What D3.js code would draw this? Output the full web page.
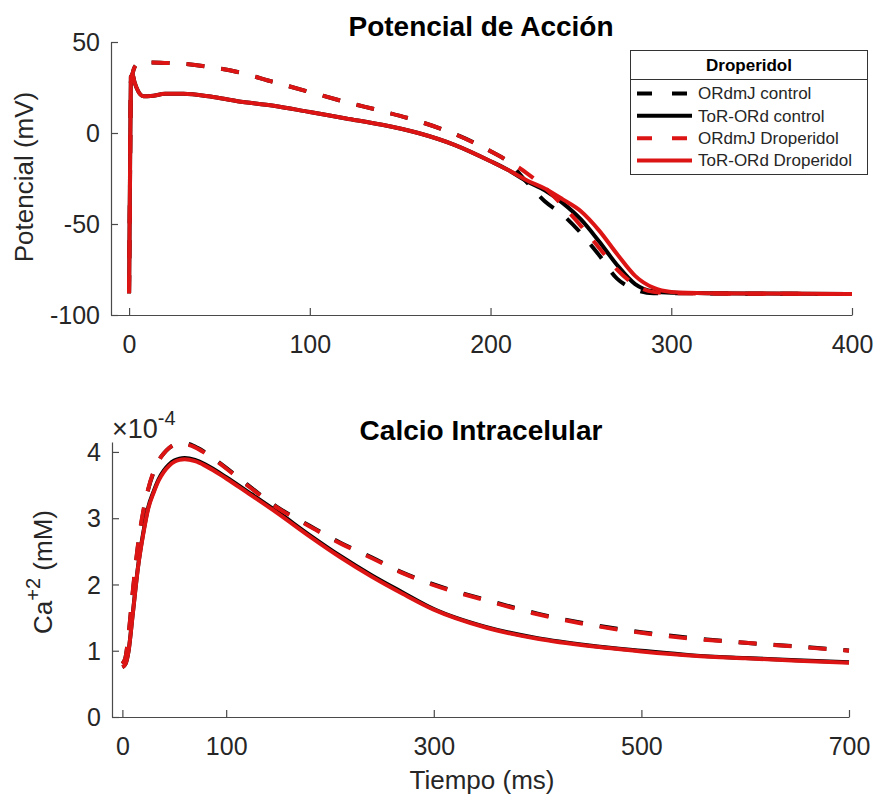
<!DOCTYPE html>
<html>
<head>
<meta charset="utf-8">
<script src="https://cdn.jsdelivr.net/npm/d3@7"></script>
<style>
  html, body { margin: 0; padding: 0; background: #fff; }
  svg { display: block; font-family: "Liberation Sans", Arial, Helvetica, sans-serif; }
</style>
</head>
<body>
<svg id="chart" width="880" height="802"></svg>
<script>
// ---- Action potential (mV) ----
const apTime = [0, 0.5, 1, 2, 3, 5, 8, 12, 20, 30, 45, 60, 80, 100, 120, 140, 160, 180, 200, 210, 220, 230, 240, 250, 260, 270, 280, 290, 300, 320, 350, 400];
const apOrdmjControl     = [-88, -30, 28, 33, 36, 38, 38.6, 38.7, 38.5, 38, 36.2, 33.5, 28, 22.5, 17, 12, 6.5, -0.5, -10, -16, -27, -37.5, -45, -55, -67, -80, -86, -88, -88, -88.2, -88.3, -88.5];
const apTorordControl    = [-88, -25, 31, 32, 28, 23, 20.2, 20.3, 21.5, 21.5, 20, 17.5, 15, 11.5, 8, 4.5, 0, -6.5, -15.5, -20.5, -26.5, -31.5, -38.5, -47.5, -59.5, -72.5, -83, -87, -87.8, -88, -88.2, -88.5];
const apOrdmjDroperidol  = [-88, -30, 28, 33, 36, 38, 38.6, 38.7, 38.5, 38, 36.2, 33.5, 28, 22.5, 17, 12, 6.5, -0.5, -10, -15.5, -22, -30, -40, -51, -63, -75, -83.5, -87.3, -88, -88.2, -88.3, -88.5];
const apTorordDroperidol = [-88, -25, 31, 32, 28, 23, 20.2, 20.3, 21.5, 21.5, 20, 17.5, 15, 11.5, 8, 4.5, 0, -6.5, -15.5, -20.5, -26, -30.5, -36.5, -43, -53.5, -66.5, -78.5, -85, -87.3, -88, -88.2, -88.5];

// ---- Intracellular calcium (x10^-4 mM) ----
const caTime = [0, 3, 6, 10, 15, 20, 25, 30, 35, 40, 45, 50, 55, 60, 70, 80, 100, 120, 150, 180, 210, 240, 270, 300, 350, 400, 450, 500, 550, 600, 650, 700];
const caOrdmjControl     = [0.8, 0.9, 1.24, 1.88, 2.58, 3.08, 3.44, 3.69, 3.87, 3.98, 4.06, 4.11, 4.13, 4.13, 4.08, 3.99, 3.76, 3.51, 3.16, 2.89, 2.63, 2.41, 2.18, 2.0, 1.77, 1.56, 1.4, 1.28, 1.19, 1.12, 1.065, 1.005];
const caTorordControl    = [0.75, 0.8, 1.0, 1.56, 2.26, 2.77, 3.17, 3.4, 3.59, 3.72, 3.81, 3.87, 3.9, 3.91, 3.88, 3.81, 3.62, 3.41, 3.09, 2.75, 2.43, 2.14, 1.88, 1.63, 1.36, 1.19, 1.08, 1.0, 0.93, 0.89, 0.855, 0.825];
const caOrdmjDroperidol  = [0.8, 0.9, 1.25, 1.9, 2.6, 3.1, 3.45, 3.7, 3.87, 3.98, 4.06, 4.11, 4.13, 4.12, 4.07, 3.98, 3.75, 3.5, 3.15, 2.88, 2.62, 2.4, 2.17, 1.99, 1.76, 1.55, 1.39, 1.27, 1.18, 1.12, 1.06, 1.0];
const caTorordDroperidol = [0.75, 0.8, 1.0, 1.55, 2.25, 2.75, 3.15, 3.38, 3.57, 3.7, 3.79, 3.85, 3.88, 3.89, 3.86, 3.79, 3.6, 3.39, 3.07, 2.73, 2.41, 2.12, 1.86, 1.62, 1.35, 1.18, 1.07, 0.99, 0.925, 0.885, 0.85, 0.82];

// ---- Axis ticks and labels ----
const apXTicks = [0, 100, 200, 300, 400];
const apYTicks = [-100, -50, 0, 50];
const caXTicks = [0, 100, 300, 500, 700];
const caYTicks = [0, 1, 2, 3, 4];
const seriesNames = ["ORdmJ control", "ToR-ORd control", "ORdmJ Droperidol", "ToR-ORd Droperidol"];
const legendTitle = "Droperidol";

// ---- Styling ----
const RED = "#dc1414";
const BLACK = "#000000";
const DASH = "18,17";
const LW = 4;
const seriesStyle = [
  { color: BLACK, dash: DASH },
  { color: BLACK, dash: null },
  { color: RED, dash: DASH },
  { color: RED, dash: null }
];
const AXIS_COLOR = "#4a4a4a";
const TEXT_COLOR = "#262626";
const TICK_FONT = 25;
const LABEL_FONT = 26;

const svg = d3.select("#chart");
// plain integer labels with an ASCII hyphen for negatives
const plainFormat = d => String(d);

function drawAxes(g, x, y, xTicks, yTicks) {
  const xAxis = d3.axisBottom(x).tickValues(xTicks).tickFormat(plainFormat)
    .tickSizeInner(-7).tickSizeOuter(0).tickPadding(20);
  const yAxis = d3.axisLeft(y).tickValues(yTicks).tickFormat(plainFormat)
    .tickSizeInner(-7).tickSizeOuter(0).tickPadding(11);
  const gx = g.append("g").attr("transform", `translate(0,${y.range()[0]})`).call(xAxis);
  const gy = g.append("g").attr("transform", `translate(${x.range()[0]},0)`).call(yAxis);
  [gx, gy].forEach(a => {
    a.select(".domain").attr("stroke", AXIS_COLOR).attr("stroke-width", 1.2);
    a.selectAll(".tick line").attr("stroke", AXIS_COLOR).attr("stroke-width", 1.2);
    a.selectAll(".tick text").attr("fill", TEXT_COLOR).style("font-size", TICK_FONT + "px")
      .style("font-family", '"Liberation Sans", Arial, sans-serif');
  });
  gy.selectAll(".tick text").attr("dy", "0.35em");
  gx.selectAll(".tick text").attr("dy", "0.72em");
}

function drawSeries(g, x, y, time, seriesList) {
  const line = d3.line().x((d, i) => x(time[i])).y(d => y(d)).curve(d3.curveMonotoneX);
  seriesList.forEach((vals, i) => {
    g.append("path")
      .attr("d", line(vals))
      .attr("fill", "none")
      .attr("stroke", seriesStyle[i].color)
      .attr("stroke-width", LW)
      .attr("stroke-linejoin", "round")
      .attr("stroke-dasharray", seriesStyle[i].dash);
  });
}

// ================= Action potential panel =================
const apX = d3.scaleLinear().domain([-10, 400]).range([111, 852]);
const apY = d3.scaleLinear().domain([-100, 50]).range([315, 42]);
const gAp = svg.append("g");
drawSeries(gAp, apX, apY, apTime, [apOrdmjControl, apTorordControl, apOrdmjDroperidol, apTorordDroperidol]);
drawAxes(gAp, apX, apY, apXTicks, apYTicks);

svg.append("text").attr("x", 481).attr("y", 36).attr("text-anchor", "middle")
  .attr("fill", "#000").style("font-size", "28px").style("font-weight", "bold")
  .text("Potencial de Acción");

svg.append("text")
  .attr("transform", "translate(33,177) rotate(-90)")
  .attr("text-anchor", "middle").attr("fill", TEXT_COLOR)
  .style("font-size", LABEL_FONT + "px")
  .text("Potencial (mV)");

// Legend
const lg = svg.append("g");
const lgX0 = 630.5, lgX1 = 867.5, lgY0 = 50.5, lgY1 = 174.5;
lg.append("rect").attr("x", lgX0).attr("y", lgY0).attr("width", lgX1 - lgX0).attr("height", lgY1 - lgY0)
  .attr("fill", "#fff").attr("stroke", "#333").attr("stroke-width", 1);
lg.append("line").attr("x1", lgX0).attr("x2", lgX1).attr("y1", 79.5).attr("y2", 79.5)
  .attr("stroke", "#333").attr("stroke-width", 1);
lg.append("text").attr("x", (lgX0 + lgX1) / 2).attr("y", 71).attr("text-anchor", "middle")
  .attr("fill", "#000").style("font-size", "17px").style("font-weight", "bold").text(legendTitle);
const legendRowY = d3.scaleLinear().domain([0, 3]).range([93.5, 160.5]);
seriesNames.forEach((name, i) => {
  const yy = legendRowY(i);
  lg.append("line").attr("x1", 637).attr("x2", 692).attr("y1", yy).attr("y2", yy)
    .attr("stroke", seriesStyle[i].color).attr("stroke-width", LW)
    .attr("stroke-dasharray", seriesStyle[i].dash ? "15,20" : null);
  lg.append("text").attr("x", 698).attr("y", yy).attr("dy", "0.35em")
    .attr("fill", TEXT_COLOR).style("font-size", "17px").text(name);
});

// ================= Calcium panel =================
const caX = d3.scaleLinear().domain([-10, 700]).range([112, 849]);
const caY = d3.scaleLinear().domain([0, 4.15]).range([717, 442]);
const gCa = svg.append("g");
drawSeries(gCa, caX, caY, caTime, [caOrdmjControl, caTorordControl, caOrdmjDroperidol, caTorordDroperidol]);
drawAxes(gCa, caX, caY, caXTicks, caYTicks);

// exponent marker above the y axis
const ex = svg.append("text").attr("x", 112).attr("y", 438).attr("fill", TEXT_COLOR).style("font-size", "27px");
ex.append("tspan").text("×10");
ex.append("tspan").attr("dy", -13).style("font-size", "20px").text("-4");

svg.append("text").attr("x", 481).attr("y", 440).attr("text-anchor", "middle")
  .attr("fill", "#000").style("font-size", "28px").style("font-weight", "bold")
  .text("Calcio Intracelular");

const caLabel = svg.append("text")
  .attr("transform", "translate(52,572) rotate(-90)")
  .attr("text-anchor", "middle").attr("fill", TEXT_COLOR)
  .style("font-size", LABEL_FONT + "px");
caLabel.append("tspan").text("Ca");
caLabel.append("tspan").attr("dy", -12).style("font-size", "20px").text("+2");
caLabel.append("tspan").attr("dy", 12).text(" (mM)");

svg.append("text").attr("x", 482).attr("y", 789).attr("text-anchor", "middle")
  .attr("fill", TEXT_COLOR).style("font-size", LABEL_FONT + "px")
  .text("Tiempo (ms)");
</script>
</body>
</html>
